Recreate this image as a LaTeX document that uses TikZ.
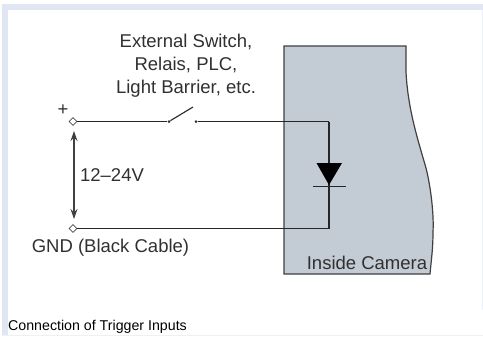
\documentclass[tikz,border=0pt]{standalone}
\usepackage{fontspec}
\setmainfont{Liberation Sans}
\usetikzlibrary{positioning, arrows.meta, calc, shapes.geometric}
\definecolor{framecol}{HTML}{E1E7F2}
\definecolor{cameracol}{HTML}{C3CCD4}
\definecolor{textcol}{HTML}{303030}
\begin{document}
\begin{tikzpicture}[x=1pt,y=-1pt]
		\tikzstyle{terminal} = [shape=diamond, draw=black!70, fill=white, line width=0.8, inner sep=0, minimum size=8]
		\tikzstyle{contact} = [shape=circle, fill=black!80, inner sep=0, minimum size=3]
		\tikzstyle{invisible} = [outer sep=0,inner sep=0,minimum size=0]
		\tikzstyle{label} = [text=textcol, font=\fontsize{18.5}{23}\selectfont, align=center, inner sep=0]
		\tikzstyle{wire} = [draw=black!85, line width=1.1]
		\tikzstyle{voltage} = [draw=black!75, line width=1.3, {Stealth[length=10pt,width=7pt]}-{Stealth[length=10pt,width=7pt]}]
		\useasboundingbox (0,0) rectangle (483,338);
		% page frame
		\fill [framecol] (2,4) rectangle (483,10);
		\fill [framecol] (2,4) rectangle (8,336);
		\fill [framecol!60] (2,334.5) rectangle (483,336);
		\fill [framecol!60] (482,10) rectangle (483,310);
		% camera body
		\draw [fill=cameracol, draw=black!75, line width=1.2] (284,46) -- (406,46) -- (406,72)
			.. controls (408,110) and (418,140) .. (426,168)
			.. controls (431,188) and (434,215) .. (433,232)
			.. controls (433,250) and (431,262) .. (430,274) -- (284,274) -- cycle;
		\node [label] (v_camera) at (367,263) {Inside Camera};
		% terminals and switch
		\node [terminal] (v_plus) at (73,121.5) {};
		\node [terminal] (v_gnd) at (73,228.5) {};
		\node [contact] (v_s1) at (169,121.5) {};
		\node [contact] (v_s2) at (196,121.5) {};
		\node [invisible] (v_blade) at (193,107) {};
		\node [invisible] (v_top) at (329,121.5) {};
		\node [invisible] (v_bot) at (329,228.5) {};
		\node [invisible] (v_barl) at (313,186.5) {};
		\node [invisible] (v_barr) at (345.5,186.5) {};
		\node [invisible] (v_an1) at (316.5,163) {};
		\node [invisible] (v_an2) at (342,163) {};
		\node [invisible] (v_apex) at (329,185) {};
		\node [invisible] (v_arrtop) at (74,131) {};
		\node [invisible] (v_arrbot) at (74,219) {};
		% wires
		\draw [wire] (v_plus) -- (v_s1);
		\draw [wire] (v_s1) -- (v_blade);
		\draw [wire] (v_s2) -- (v_top) -- (v_bot) -- (v_gnd);
		\draw [wire] (v_barl) -- (v_barr);
		\fill [black] (v_an1.center) -- (v_an2.center) -- (v_apex.center) -- cycle;
		\draw [voltage] (v_arrtop) -- (v_arrbot);
		% labels
		\node [label] (v_switch) at (186,65.5) {External Switch,\\Relais, PLC,\\Light Barrier, etc.};
		\node [label] (v_pluslabel) at (63,110) {+};
		\node [label] (v_volt) at (112,175) {12–24V};
		\node [label] (v_gndlabel) at (110.5,247.5) {GND (Black Cable)};
		\node [text=black, font=\fontsize{14.2}{16}\selectfont, inner sep=0, anchor=west] (v_caption) at (8,326.5) {Connection of Trigger Inputs};
\end{tikzpicture}
\end{document}
